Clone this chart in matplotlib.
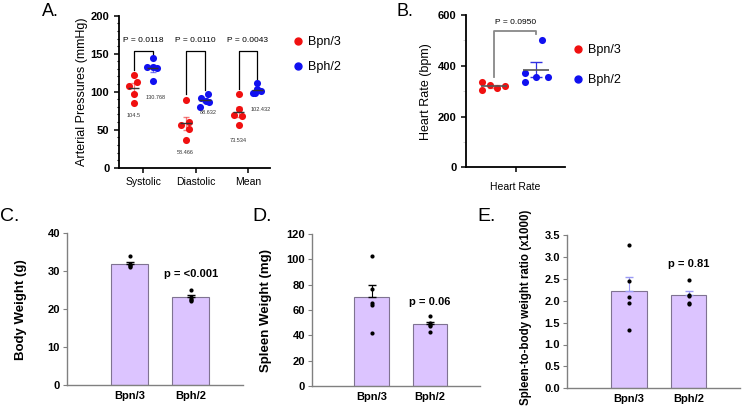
import numpy as np
import matplotlib
matplotlib.use("Agg")
import matplotlib.pyplot as plt
from matplotlib.lines import Line2D
from matplotlib.ticker import MultipleLocator, FormatStrFormatter

plt.rcParams['font.family'] = ['Liberation Sans', 'DejaVu Sans']

# --- data ---
bp_groups = ["Systolic", "Diastolic", "Mean"]
bpn3_bp = [[122, 113, 107.5, 97, 85.5],
           [89.5, 56, 59.6, 50.4, 36.4],
           [97, 77.5, 68.5, 69, 56]]
bph2_bp = [[144, 133, 132, 131, 113.6],
           [92, 97, 88, 87, 80],
           [112, 103, 101, 98, 98]]
bpn3_bp_labels = ["104.5", "58.466", "73.534"]
bph2_bp_labels = ["130.768", "88.632", "102.432"]
bpn3_label_y = [69, 20, 36]
bph2_label_y = [92.5, 73, 76]
bp_pvalues = ["P = 0.0118", "P = 0.0110", "P = 0.0043"]

hr_bpn3 = [337, 324, 311, 320, 305]
hr_bph2 = [500, 372, 337, 356, 354]
hr_pvalue = "P = 0.0950"

strains = ["Bpn/3", "Bph/2"]
body_bpn3 = [34, 32, 31.6, 31.3, 31]
body_bph2 = [25, 23.2, 22.8, 22.4, 22.1]
spleen_bpn3 = [102.6, 76.6, 65.8, 64, 42]
spleen_bph2 = [55.5, 49.5, 48.2, 47.4, 42.4]
ratio_bpn3 = [3.27, 2.44, 2.08, 1.95, 1.32]
ratio_bph2 = [2.48, 2.14, 2.1, 1.95, 1.93]

# horizontal scatter of the dots (styling)
jit_bpn3 = [[0, .06, -.08, 0, 0], [0, -.09, .06, .05, 0], [0, 0, .07, -.09, 0]]
jit_bph2 = [[.01, -.1, 0, .08, .01], [-.08, .06, .01, .08, -.09], [0, 0, .07, -.08, -.04]]
jit_hr_bpn3 = [-.23, -.08, .07, .22, -.23]
jit_hr_bph2 = [.11, -.23, -.23, 0, .23]

RED = '#F01010'
BLUE = '#1010F0'
BAR_FACE = '#DCC4FF'
BAR_EDGE = '#7F7391'

W, H = 751, 413
fig = plt.figure(figsize=(W / 100, H / 100), dpi=100)


def px_axes(left, top, right, bottom):
    return fig.add_axes([left / W, 1 - bottom / H, (right - left) / W, (bottom - top) / H])


def sem(vals):
    v = np.asarray(vals, dtype=float)
    return v.std(ddof=1) / np.sqrt(len(v))


def fig_text(x, y, s, **kw):
    fig.text(x / W, 1 - y / H, s, **kw)


# ---------------- Panel A ----------------
ax = px_axes(119, 15.7, 270, 167.7)
for i, g in enumerate(bp_groups):
    sets = [(bpn3_bp[i], jit_bpn3[i], -0.18, RED, bpn3_bp_labels[i], bpn3_label_y[i], -0.19),
            (bph2_bp[i], jit_bph2[i], 0.18, BLUE, bph2_bp_labels[i], bph2_label_y[i], 0.24)]
    for vals, jit, off, col, lab, ly, loff in sets:
        xs = i + off + np.array(jit)
        ax.scatter(xs, vals, s=26, color=col, zorder=3, linewidths=0)
        m = np.mean(vals)
        ax.hlines(m, i + off - 0.11, i + off + 0.11, color='#333333', lw=1, zorder=4)
        ax.errorbar(i + off, m, yerr=sem(vals), color=col, alpha=0.55, capsize=2.5,
                    lw=0.9, zorder=2)
        ax.text(i + loff, ly, lab, fontsize=4, ha='center', va='center', color='#333333')
    ax.plot([i - 0.18, i - 0.18, i + 0.18, i + 0.18],
            [max(bpn3_bp[i]) + 7, 154, 154, max(bph2_bp[i]) + 5], color='k', lw=0.9)
    ax.text(i, 168, bp_pvalues[i], ha='center', va='center', fontsize=6)

ax.set_xlim(-0.46, 2.42)
ax.set_ylim(0, 200)
ax.set_xticks(range(len(bp_groups)))
ax.set_xticklabels(bp_groups, fontsize=7.5)
ax.set_yticks([0, 50, 100, 150, 200])
ax.set_yticklabels(['0', '50', '100', '150', '200'], fontsize=8, fontweight='bold')
ax.yaxis.set_minor_locator(MultipleLocator(10))
ax.tick_params(axis='both', which='major', length=3.5, width=1.1)
ax.tick_params(axis='y', which='minor', length=1.8, width=0.8)
for s in ['top', 'right']:
    ax.spines[s].set_visible(False)
for s in ['left', 'bottom']:
    ax.spines[s].set_linewidth(1.3)
ax.set_ylabel("Arterial Pressures (mmHg)", fontsize=9)
ax.yaxis.set_label_coords(-0.205, 0.5)

handles = [Line2D([], [], marker='o', ls='', color=RED, markersize=5),
           Line2D([], [], marker='o', ls='', color=BLUE, markersize=5)]
fig.legend(handles, strains, loc='upper left', bbox_to_anchor=(293 / W, 1 - 36 / H),
           frameon=False, fontsize=9, handlelength=0.8, handletextpad=0.4,
           labelspacing=1.05, borderpad=0, borderaxespad=0)

# ---------------- Panel B ----------------
ax = px_axes(466, 15, 565, 167.3)
for vals, jit, off, col, ecol in [(hr_bpn3, jit_hr_bpn3, -0.44, RED, '#F08888'),
                                  (hr_bph2, jit_hr_bph2, 0.42, BLUE, '#3030E0')]:
    ax.scatter(off + np.array(jit), vals, s=26, color=col, zorder=3, linewidths=0)
    m = np.mean(vals)
    ax.hlines(m, off - 0.26, off + 0.26, color='#555555', lw=1.2, zorder=4)
    ax.errorbar(off, m, yerr=sem(vals), color=ecol, capsize=4, lw=0.9, zorder=2)
ax.plot([-0.44, -0.44, 0.42, 0.42],
        [max(hr_bpn3) + 18, 538, 538, max(hr_bph2) + 24], color='#888888', lw=1.3)
ax.text(0, 570, hr_pvalue, ha='center', va='center', fontsize=6)
ax.set_xlim(-1, 1)
ax.set_ylim(0, 600)
ax.set_xticks([0])
ax.set_xticklabels(["Heart Rate"], fontsize=7.5)
ax.set_yticks([0, 200, 400, 600])
ax.set_yticklabels(['0', '200', '400', '600'], fontsize=8, fontweight='bold')
ax.yaxis.set_minor_locator(MultipleLocator(100))
ax.tick_params(axis='both', which='major', length=3.5, width=1.1)
ax.tick_params(axis='x', pad=7)
ax.tick_params(axis='y', which='minor', length=2, width=0.6, color='#cccccc')
for s in ['top', 'right']:
    ax.spines[s].set_visible(False)
for s in ['left', 'bottom']:
    ax.spines[s].set_linewidth(1.3)
ax.set_ylabel("Heart Rate (bpm)", fontsize=9)
ax.yaxis.set_label_coords(-0.343, 0.5)

fig.legend(handles, strains, loc='upper left', bbox_to_anchor=(573 / W, 1 - 44 / H),
           frameon=False, fontsize=9, handlelength=0.8, handletextpad=0.4,
           labelspacing=1.45, borderpad=0, borderaxespad=0)


# ---------------- Panels C, D, E ----------------
def bar_panel(ax, bpn, bph, ymax, ystep, yfmt, ylabel, ptext, ptext_y, ecolor,
              label_x, label_y, label_size):
    means = [np.mean(bpn), np.mean(bph)]
    errs = [sem(bpn), sem(bph)]
    ax.bar([0, 1], means, width=0.6, color=BAR_FACE, edgecolor=BAR_EDGE, lw=0.8, zorder=1)
    ax.errorbar([0, 1], means, yerr=[[0, 0], errs], fmt='none', ecolor=ecolor,
                capsize=3, lw=0.8, zorder=2)
    ax.scatter([0] * len(bpn), bpn, s=9, color='k', zorder=3, linewidths=0)
    ax.scatter([1] * len(bph), bph, s=9, color='k', zorder=3, linewidths=0)
    ax.text(1, ptext_y, ptext, ha='center', va='center', fontsize=8, fontweight='bold')
    ax.set_xlim(-1.03, 1.86)
    ax.set_ylim(0, ymax)
    ax.set_yticks(np.arange(0, ymax + ystep / 2, ystep))
    ax.yaxis.set_major_formatter(FormatStrFormatter(yfmt))
    ax.set_xticks([0, 1])
    ax.set_xticklabels(strains)
    for lab in ax.get_xticklabels() + ax.get_yticklabels():
        lab.set_fontweight('bold')
        lab.set_fontsize(8)
    ax.tick_params(axis='x', length=0, pad=4)
    ax.tick_params(axis='y', length=3, width=0.8, color='#808080', pad=2)
    for s in ['top', 'right']:
        ax.spines[s].set_visible(False)
    for s in ['left', 'bottom']:
        ax.spines[s].set_color('#808080')
        ax.spines[s].set_linewidth(1)
    ax.set_ylabel(ylabel, fontsize=label_size, fontweight='bold')
    ax.yaxis.set_label_coords(label_x, label_y)


ax = px_axes(67, 233.3, 243, 385)
bar_panel(ax, body_bpn3, body_bph2, 40, 10, '%d', "Body Weight (g)",
          "p = <0.001", 29.3, 'k', -0.225, 0.5, 9.5)
ax = px_axes(312, 234, 480, 386)
bar_panel(ax, spleen_bpn3, spleen_bph2, 120, 20, '%d', "Spleen Weight (mg)",
          "p = 0.06", 66.6, 'k', -0.236, 0.5, 9.5)
ax = px_axes(567, 235, 740, 388.3)
bar_panel(ax, ratio_bpn3, ratio_bph2, 3.5, 0.5, '%.1f', "Spleen-to-body weight ratio (x1000)",
          "p = 0.81", 2.83, '#9A9AF5', -0.2, 0.53, 8.3)

# panel letters
fig_text(42, 16, "A.", fontsize=13, va='baseline')
fig_text(396, 16, "B.", fontsize=13, va='baseline')
fig_text(0, 221, "C.", fontsize=14, va='baseline')
fig_text(252, 221, "D.", fontsize=14, va='baseline')
fig_text(477, 221, "E.", fontsize=14, va='baseline')

fig.savefig("out.png", dpi=100)
